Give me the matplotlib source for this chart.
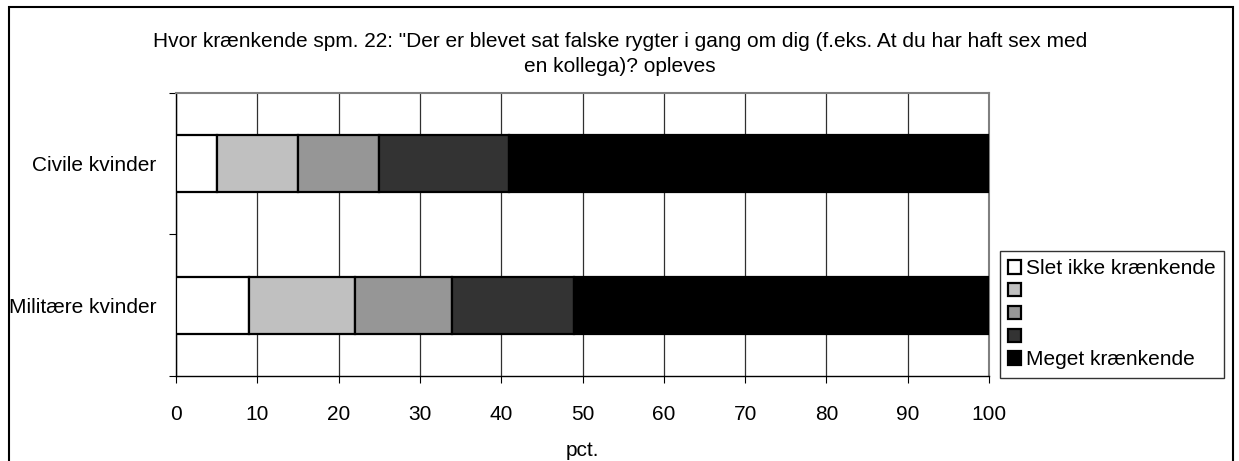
import matplotlib
matplotlib.use("Agg")
import matplotlib.pyplot as plt
import matplotlib.patches as mpatches
import numpy as np

plt.rcParams['font.family'] = ['Liberation Sans', 'DejaVu Sans']

categories = ["Militære kvinder", "Civile kvinder"]
series_labels = ["Slet ikke krænkende", " ", " ", " ", "Meget krænkende"]
colors = ["#FFFFFF", "#C0C0C0", "#969696", "#333333", "#000000"]
# segment values (pct.) per category, order matches categories
values = [
    [9, 5],     # Slet ikke krænkende
    [13, 10],
    [12, 10],
    [15, 16],
    [51, 59],   # Meget krænkende
]
xticks = list(range(0, 101, 10))
title = 'Hvor krænkende spm. 22: "Der er blevet sat falske rygter i gang om dig (f.eks. At du har haft sex med\nen kollega)? opleves'

W, H = 1239, 461
fig = plt.figure(figsize=(W / 100, H / 100), dpi=100)
ax = fig.add_axes([176 / W, 1 - 376 / H, (989 - 176) / W, (376 - 93) / H])

ypos = np.arange(len(categories))
left = np.zeros(len(categories))
handles = []
for lab, col, vals in zip(series_labels, colors, values):
    b = ax.barh(ypos, vals, left=left, height=0.40, color=col,
                edgecolor='black', linewidth=1.6, zorder=3)
    left += np.array(vals)
    handles.append(b)

ax.set_xlim(0, 100)
ax.set_ylim(-0.5, 1.5)
ax.set_xticks(xticks)
ax.set_xticklabels([str(t) for t in xticks], fontsize=15)
ax.tick_params(axis='x', direction='out', length=5, pad=16, color='black')

# category boundary ticks and centered labels
ax.set_yticks([-0.5, 0.5, 1.5])
ax.set_yticklabels([])
ax.set_yticks(ypos, minor=True)
ax.set_yticklabels(categories, minor=True, fontsize=15)
ax.tick_params(axis='y', which='major', direction='out', length=5, color='black')
ax.tick_params(axis='y', which='minor', length=0, pad=14)

ax.grid(axis='x', color='#303030', linewidth=0.9, zorder=0)
ax.set_axisbelow(True)
for s in ['top', 'right']:
    ax.spines[s].set_color('#808080')
    ax.spines[s].set_linewidth(1.5)
for s in ['left', 'bottom']:
    ax.spines[s].set_color('black')
    ax.spines[s].set_linewidth(1.0)

ax.set_xlabel('pct.', fontsize=15, labelpad=12)

fig.text(0.5 + 0.5 / W, 1 - 54 / H, title, ha='center', va='center', fontsize=15,
         linespacing=1.4)

leg_handles = [mpatches.Patch(facecolor=c, edgecolor='black', linewidth=1.6) for c in colors]
leg = fig.legend(leg_handles, series_labels, loc='upper left',
                 bbox_to_anchor=(1000 / W, 1 - 251 / H), bbox_transform=fig.transFigure,
                 fontsize=15, frameon=True, fancybox=False, shadow=False,
                 borderaxespad=0, borderpad=0.4, labelspacing=0.18,
                 handlelength=0.6, handleheight=0.6, handletextpad=0.25)
leg.get_frame().set_edgecolor('black')
leg.get_frame().set_linewidth(1.0)

# outer chart border
border = mpatches.Rectangle((9 / W, -0.1), (1233 - 9) / W, 1 - 7 / H + 0.1,
                            transform=fig.transFigure, fill=False,
                            edgecolor='black', linewidth=1.5, clip_on=False)
fig.patches.append(border)

fig.savefig('out.png', dpi=100)
